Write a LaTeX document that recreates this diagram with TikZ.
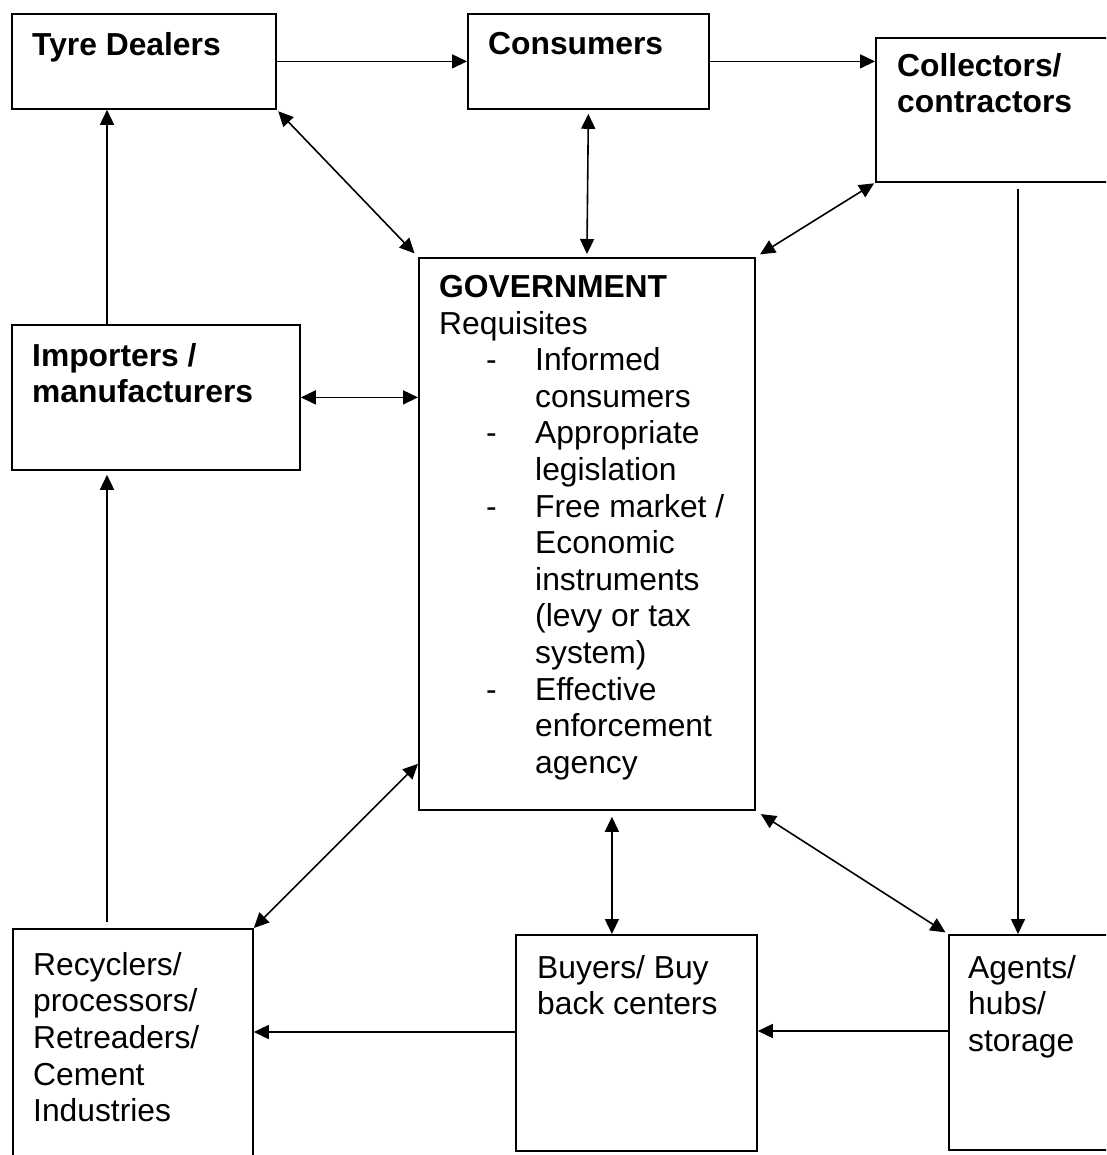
\documentclass[tikz,border=0pt]{standalone}
\usepackage{fontspec}
\setmainfont{Liberation Sans}
\usetikzlibrary{arrows.meta}
\newcommand{\govitem}[1]{\makebox[96pt][l]{\hspace*{47pt}#1}}
\begin{document}
\begin{tikzpicture}[x=1pt,y=-1pt,
  box/.style={draw, line width=1.8pt, inner sep=0pt, anchor=north west},
  lbl/.style={inner sep=0pt, anchor=north west, align=left, font=\fontsize{31.8}{36.6}\selectfont},
  blbl/.style={lbl, font=\fontsize{31.8}{36.6}\selectfont\bfseries},
  conn/.style={line width=1.6pt, -{Triangle[length=15pt,width=14pt]}},
  both/.style={line width=1.6pt, {Triangle[length=15pt,width=14pt]}-{Triangle[length=15pt,width=14pt]}}]
\useasboundingbox (0,0) rectangle (1106,1155);
\clip (0,0) rectangle (1106,1155);
\fill[white] (0,0) rectangle (1106,1155);

% boxes
\node[box, minimum width=264pt, minimum height=95pt] (td) at (11,13) {};
\node[box, minimum width=241pt, minimum height=95pt] (cons) at (467,13) {};
\node[box, minimum width=260pt, minimum height=144pt] (coll) at (875,37) {};
\node[box, minimum width=336pt, minimum height=552pt] (gov) at (418,257) {};
\node[box, minimum width=288pt, minimum height=145pt] (imp) at (11,324) {};
\node[box, minimum width=240pt, minimum height=260pt] (rec) at (12,928) {};
\node[box, minimum width=241pt, minimum height=216pt] (buy) at (515,934) {};
\node[box, minimum width=200pt, minimum height=215pt] (ag) at (948,934) {};

% texts
\node[blbl] (tdt) at (32,32) {Tyre Dealers};
\node[blbl] (const) at (488,32) {Consumers};
\node[blbl] (collt) at (897,53) {Collectors/\\contractors};
\node[lbl] (govt) at (439,275) {\textbf{GOVERNMENT}\\
Requisites\\
\govitem{-}Informed\\
\govitem{}consumers\\
\govitem{-}Appropriate\\
\govitem{}legislation\\
\govitem{-}Free market /\\
\govitem{}Economic\\
\govitem{}instruments\\
\govitem{}(levy or tax\\
\govitem{}system)\\
\govitem{-}Effective\\
\govitem{}enforcement\\
\govitem{}agency};
\node[blbl] (impt) at (32,343) {Importers /\\manufacturers};
\node[lbl] (rect) at (33,952) {Recyclers/\\processors/\\Retreaders/\\Cement\\Industries};
\node[lbl] (buyt) at (537,955) {Buyers/ Buy\\back centers};
\node[lbl] (agt) at (968,955) {Agents/\\hubs/\\storage};

% connectors
\draw[conn] (td.east) -- (cons.west);
\draw[conn] (cons.east) -- (cons.east -| coll.west);
\draw[both, shorten <=2pt, shorten >=5pt] (td.south east) -- (gov.north west);
\draw[both, shorten <=4pt, shorten >=3pt] (cons.south) -- (gov.north);
\draw[both, shorten <=1pt, shorten >=5pt] (coll.south west) -- (gov.north east);
\draw[both] (imp.east) -- (imp.east -| gov.west);
\draw[both] ([yshift=47pt]gov.south west) -- (rec.north east);
\draw[both, shorten <=6pt] ([xshift=25pt]gov.south) -- ([xshift=25pt]gov.south |- buy.north);
\draw[both, shorten <=6pt, shorten >=3pt] (gov.south east) -- (ag.north west);
\draw[conn] ([xshift=96pt]imp.north west) -- ([xshift=96pt]imp.north west |- td.south);
\draw[conn, shorten <=6pt, shorten >=4pt] ([xshift=95pt]rec.north west) -- ([xshift=95pt]rec.north west |- imp.south);
\draw[conn, shorten <=6pt] ([xshift=143pt]coll.south west) -- ([xshift=143pt]coll.south west |- ag.north);
\draw[conn] ([yshift=-98pt]buy.north west) -- ([yshift=-98pt]buy.north west -| rec.east);
\draw[conn] ([yshift=-97pt]ag.north west) -- ([yshift=-97pt]ag.north west -| buy.east);
\end{tikzpicture}
\end{document}
